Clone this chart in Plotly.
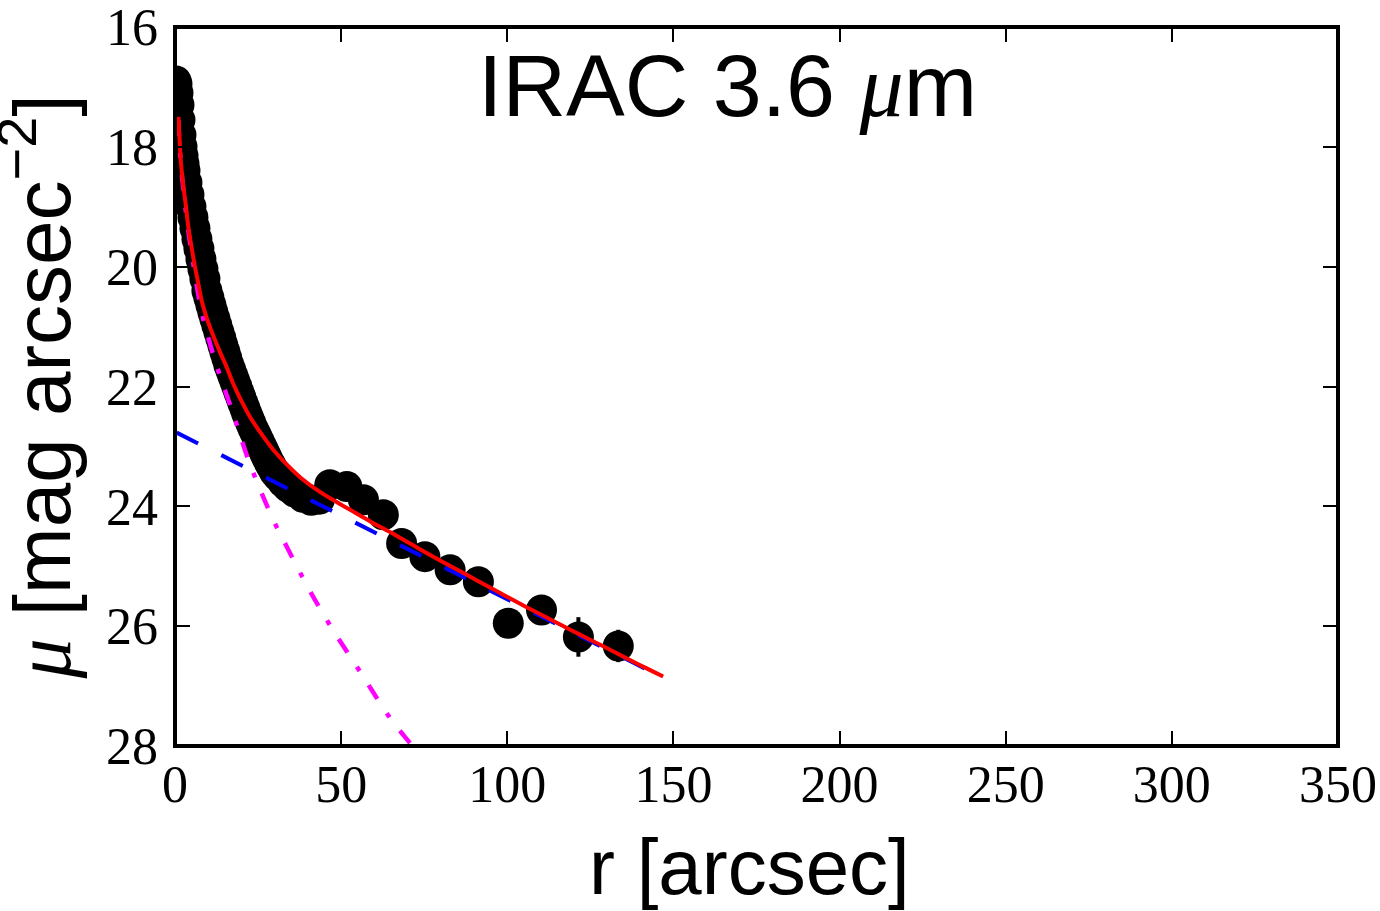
import plotly.graph_objects as go

# Inner (dense) profile points
r_inner = [0.3, 0.6, 0.9, 1.2, 1.5, 1.8, 2.1, 2.4, 2.7, 3.0, 3.6, 4.2, 4.8, 5.4, 6.0, 6.6,
           7.2, 7.8, 8.4, 9.0, 9.6, 10.2, 10.8, 11.4, 12.0, 12.6, 13.2, 13.8, 14.4, 15.0,
           15.6, 16.2, 16.8, 17.4, 18.0, 18.6, 19.2, 19.8, 20.4, 21.0, 21.6, 22.2, 22.8,
           23.4, 24.0, 24.6, 25.2, 25.8, 26.4, 27.0, 27.6, 28.2, 28.8, 29.4, 30.0, 31.0,
           32.5, 34.0, 36.0, 38.5, 41.0, 43.5]
mu_inner = [16.9, 16.95, 17.1, 17.3, 17.55, 17.8, 18.0, 18.15, 18.28, 18.4, 18.6, 18.8,
            19.0, 19.18, 19.36, 19.54, 19.7, 19.87, 20.04, 20.2, 20.4, 20.52, 20.64, 20.76,
            20.87, 20.98, 21.09, 21.2, 21.31, 21.42, 21.53, 21.64, 21.73, 21.82, 21.91,
            22.0, 22.09, 22.18, 22.27, 22.36, 22.45, 22.53, 22.61, 22.69, 22.76, 22.83,
            22.9, 22.97, 23.04, 23.11, 23.18, 23.25, 23.31, 23.37, 23.43, 23.5, 23.6,
            23.68, 23.76, 23.85, 23.9, 23.88]

# Outer profile points with errors
r_outer = [46.6, 51.7, 56.7, 62.7, 68.2, 75.2, 82.8, 91.3, 100.3, 110.3, 121.4, 133.4]
mu_outer = [23.64, 23.67, 23.89, 24.14, 24.62, 24.84, 25.06, 25.26, 25.95, 25.73, 26.18, 26.33]
err_outer = [0.03, 0.04, 0.05, 0.06, 0.07, 0.08, 0.1, 0.12, 0.2, 0.2, 0.33, 0.27]

# Total model (red)
r_total = [1.0, 1.4, 1.7, 2.2, 2.6, 3.2, 4.0, 5.0, 6.0, 7.0, 8.0, 9.5, 11.5, 13.5, 15.5,
           17.5, 19.6, 22.5, 26.1, 29.5, 33.6, 38.0, 43.6, 49.0, 54.0, 59.0, 64.7, 71.0,
           78.0, 85.0, 91.3, 98.0, 105.0, 112.0, 120.0, 128.0, 135.0, 141.0, 146.9]
mu_total = [17.5, 17.9, 18.2, 18.5, 18.7, 18.95, 19.33, 19.68, 20.0, 20.28, 20.56, 20.85,
            21.15, 21.42, 21.67, 21.95, 22.2, 22.5, 22.8, 23.05, 23.3, 23.53, 23.76, 23.94,
            24.1, 24.26, 24.43, 24.63, 24.85, 25.06, 25.25, 25.45, 25.66, 25.86, 26.09,
            26.31, 26.51, 26.68, 26.84]

# Disk component (blue dashed)
r_disk = [0.5, 146.9]
mu_disk = [22.77, 26.86]

# Bulge component (magenta dash-dot)
r_bulge = [1.0, 1.7, 2.6, 4.0, 5.8, 8.0, 12.0, 17.1, 22.6, 29.6, 33.6, 40.0, 46.6, 55.7,
           65.2, 70.7, 72.5]
mu_bulge = [17.55, 18.25, 18.75, 19.4, 20.05, 20.75, 21.56, 22.39, 23.3, 24.23, 24.67,
            25.35, 25.98, 26.76, 27.57, 27.95, 28.08]

x_ticks = [0, 50, 100, 150, 200, 250, 300, 350]
y_ticks = [16, 18, 20, 22, 24, 26, 28]

fig = go.Figure()
fig.add_trace(go.Scatter(x=r_inner, y=mu_inner, mode="markers",
                         marker=dict(color="black", size=31, line=dict(width=0)),
                         cliponaxis=True, showlegend=False))
fig.add_trace(go.Scatter(x=r_outer, y=mu_outer, mode="markers",
                         marker=dict(color="black", size=31, line=dict(width=0)),
                         error_y=dict(type="data", array=err_outer, color="black",
                                      thickness=4, width=0),
                         cliponaxis=True, showlegend=False))
fig.add_trace(go.Scatter(x=r_disk, y=mu_disk, mode="lines",
                         line=dict(color="#0000ff", width=4, dash="24px,26px"),
                         showlegend=False))
fig.add_trace(go.Scatter(x=r_bulge, y=mu_bulge, mode="lines",
                         line=dict(color="#ff00ff", width=4.5, dash="16px,17px,5px,17px",
                                   shape="spline"),
                         showlegend=False))
fig.add_trace(go.Scatter(x=r_total, y=mu_total, mode="lines",
                         line=dict(color="#ff0000", width=4, shape="spline"),
                         showlegend=False))

tickfont = dict(family="Liberation Serif", size=52, color="black")
axis_common = dict(showline=False, mirror="ticks",
                   ticks="inside", ticklen=15, tickwidth=2, tickcolor="black",
                   showgrid=False, zeroline=False, tickfont=tickfont, automargin=False,
                   ticklabeloverflow="allow")

fig.update_xaxes(range=[0, 350], tickvals=x_ticks, ticktext=[str(v) for v in x_ticks],
                 ticklabelstandoff=3, **axis_common)
fig.update_yaxes(range=[28, 16], tickvals=y_ticks, ticktext=[str(v) for v in y_ticks],
                 ticklabelstandoff=16, **axis_common)

# axes frame, centred on the plot-area edges
fig.add_shape(type="rect", xref="paper", yref="paper", x0=0, x1=1, y0=0, y1=1,
              line=dict(color="black", width=4), fillcolor="rgba(0,0,0,0)", layer="above")

fig.add_annotation(text="IRAC 3.6 <span style=\"font-family:'Liberation Serif';font-style:italic\">μ</span>m",
                   xref="paper", yref="paper", x=0.4751, y=0.9187, xanchor="center",
                   yanchor="middle", showarrow=False,
                   font=dict(family="Liberation Sans", size=88, color="black"))
fig.add_annotation(text="r [arcsec]", xref="paper", yref="paper", x=0.4944, y=-0.1683,
                   xanchor="center", yanchor="middle", showarrow=False,
                   font=dict(family="Liberation Sans", size=78, color="black"))
fig.add_annotation(text="<span style=\"font-family:'Liberation Serif';font-style:italic\">μ</span> [mag arcsec<sup>−2</sup>]",
                   xref="paper", yref="paper", x=-0.1195, y=0.4986, xanchor="center",
                   yanchor="middle", textangle=-90, showarrow=False,
                   font=dict(family="Liberation Sans", size=80, color="black"))

fig.update_layout(width=1380, height=911, margin=dict(l=175, r=42, t=27, b=165),
                  paper_bgcolor="white", plot_bgcolor="white", template="none")

# remove the page's default body margin so the figure fills the window exactly
fig.write_html("out.html", config={"displayModeBar": False},
               post_script="document.body.style.margin='0px';"
                           "document.body.style.overflow='hidden';"
                           "document.documentElement.style.overflow='hidden';")
